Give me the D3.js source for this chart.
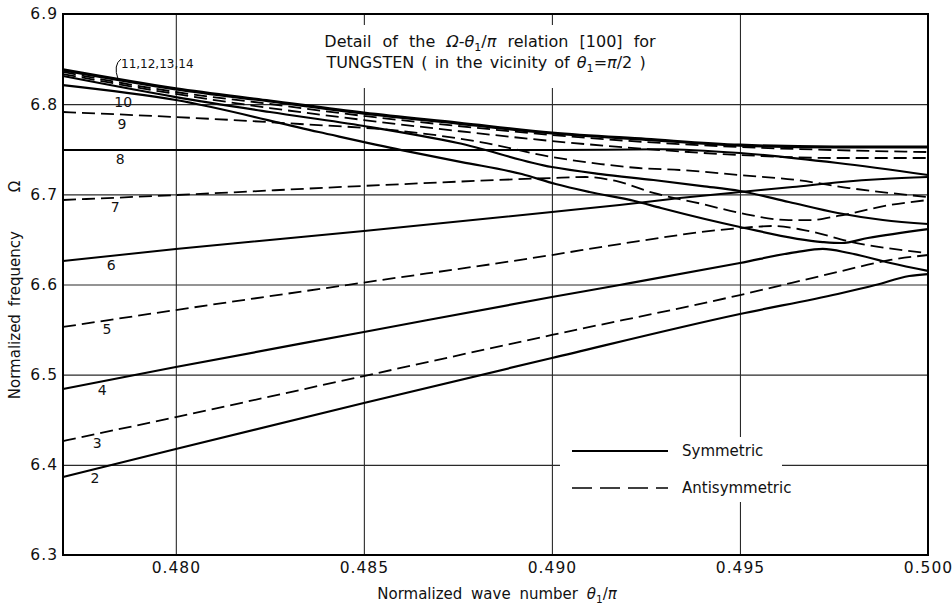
<!DOCTYPE html>
<html>
<head>
<meta charset="utf-8">
<script src="https://cdn.jsdelivr.net/npm/d3@7"></script>
<style>
  body { margin: 0; background: #fff; }
  svg text { font-family: "DejaVu Sans", sans-serif; fill: #111; }
</style>
</head>
<body>
<div id="chart"></div>
<script>
const canvas_w  =   952;
const canvas_h  =   606;

const xTicks    =   [ 0.480, 0.485, 0.490, 0.495, 0.500 ];
const yTicks    =   [ 6.3, 6.4, 6.5, 6.6, 6.7, 6.8, 6.9 ];

// symmetric branches (solid), points are [theta1/pi, Omega]
const sym11 = [ [0.4770,6.838],[0.4800,6.817],[0.4825,6.8035],[0.4850,6.790],[0.4875,6.779],
                [0.4900,6.768],[0.4925,6.761],[0.4950,6.7545],[0.4975,6.7525],[0.5000,6.7525] ];
const sym14 = [ [0.4770,6.8312],[0.4800,6.8079],[0.4825,6.7913],[0.4850,6.7758],[0.4875,6.7569],
                [0.4900,6.7303],[0.4913,6.7225],[0.4927,6.7159],[0.4940,6.7092],[0.4950,6.7037],
                [0.4963,6.6915],[0.4976,6.6793],[0.4988,6.6715],[0.5000,6.6671] ];
const sym10 = [ [0.4770,6.8212],[0.4800,6.8046],[0.4838,6.7691],[0.4860,6.7491],[0.4876,6.7358],
                [0.4892,6.7225],[0.4901,6.7114],[0.4910,6.7026],[0.4922,6.6926],[0.4929,6.6848],
                [0.4950,6.6638],[0.4972,6.6471],[0.4977,6.6460],[0.4984,6.6516],[0.5000,6.6615] ];
const sym8  = [ [0.4770,6.7491],[0.4850,6.7491],[0.4900,6.7491],[0.4929,6.7500],[0.4950,6.7458],
                [0.4976,6.7347],[0.5000,6.7214] ];
const sym6  = [ [0.4770,6.6260],[0.4800,6.6394],[0.4850,6.6593],[0.4900,6.6804],[0.4918,6.6882],
                [0.4934,6.6959],[0.4950,6.7026],[0.4964,6.7081],[0.4977,6.7137],[0.4988,6.7170],
                [0.5000,6.7192] ];
const sym4  = [ [0.4770,6.4841],[0.4800,6.5085],[0.4850,6.5473],[0.4900,6.5861],[0.4918,6.5994],
                [0.4950,6.6238],[0.4965,6.6360],[0.4972,6.6394],[0.4979,6.6349],[0.4990,6.6238],
                [0.5000,6.6150] ];
const sym2  = [ [0.4770,6.3865],[0.4800,6.4176],[0.4850,6.4686],[0.4900,6.5185],[0.4950,6.5673],
                [0.4976,6.5895],[0.4986,6.5994],[0.4995,6.6094],[0.5000,6.6116] ];

// antisymmetric branches (dashed)
const anti12 = [ [0.4770,6.8357],[0.4800,6.8135],[0.4825,6.8002],[0.4850,6.7869],[0.4875,6.7758],
                 [0.4900,6.7658],[0.4925,6.7580],[0.4950,6.7525],[0.4975,6.7491],[0.5000,6.7469] ];
const anti13 = [ [0.4770,6.8334],[0.4800,6.8113],[0.4825,6.7957],[0.4850,6.7824],[0.4875,6.7702],
                 [0.4900,6.7591],[0.4925,6.7503],[0.4950,6.7436],[0.4975,6.7403],[0.5000,6.7403] ];
const anti9  = [ [0.4770,6.7913],[0.4800,6.7857],[0.4833,6.7780],[0.4860,6.7702],[0.4881,6.7580],
                 [0.4900,6.7414],[0.4913,6.7336],[0.4923,6.7292],[0.4934,6.7270],[0.4950,6.7214],
                 [0.4965,6.7159],[0.4979,6.7070],[0.5000,6.6970] ];
const anti7  = [ [0.4770,6.6937],[0.4800,6.6992],[0.4855,6.7103],[0.4900,6.7181],[0.4909,6.7192],
                 [0.4917,6.7148],[0.4927,6.7015],[0.4940,6.6893],[0.4950,6.6793],[0.4963,6.6715],
                 [0.4969,6.6715],[0.4976,6.6760],[0.4990,6.6882],[0.5000,6.6937] ];
const anti5  = [ [0.4770,6.5529],[0.4800,6.5717],[0.4850,6.6022],[0.4900,6.6327],[0.4918,6.6449],
                 [0.4950,6.6626],[0.4959,6.6649],[0.4967,6.6604],[0.4981,6.6460],[0.5000,6.6349] ];
const anti3  = [ [0.4770,6.4264],[0.4800,6.4530],[0.4850,6.4985],[0.4900,6.5440],[0.4950,6.5883],
                 [0.4976,6.6139],[0.4990,6.6272],[0.5000,6.6327] ];

// curve number labels: [text, theta1/pi where the label sits, branch]
const curveLabels = [ ['2',0.47785,sym2],['3',0.47791,anti3],['4',0.47804,sym4],['5',0.47817,anti5],
                      ['6',0.47828,sym6],['7',0.47839,anti7],['8',0.47852,sym8],['9',0.47857,anti9],
                      ['10',0.4786,sym10] ];

const curves = [
    { pts: sym11,  dashed: false, w: 3.2 },
    { pts: sym14,  dashed: false, w: 2.2 },
    { pts: sym10,  dashed: false, w: 2.2 },
    { pts: sym8,   dashed: false, w: 2.0 },
    { pts: sym6,   dashed: false, w: 2.0 },
    { pts: sym4,   dashed: false, w: 2.2 },
    { pts: sym2,   dashed: false, w: 2.2 },
    { pts: anti12, dashed: true,  w: 1.8 },
    { pts: anti13, dashed: true,  w: 1.8 },
    { pts: anti9,  dashed: true,  w: 1.8 },
    { pts: anti7,  dashed: true,  w: 1.8 },
    { pts: anti5,  dashed: true,  w: 1.8 },
    { pts: anti3,  dashed: true,  w: 1.8 }
];

let x = d3.scaleLinear().domain( [ 0.477, 0.500 ] ).range( [ 63, 928 ] );
let y = d3.scaleLinear().domain( [ 6.3, 6.9 ] ).range( [ 555, 14 ] );

let svg = d3.select( '#chart' )
            .append( 'svg' )
            .attr( 'width', canvas_w )
            .attr( 'height', canvas_h );

// grid
svg.append( 'g' )
   .attr( 'transform', 'translate(0,555)' )
   .call( d3.axisBottom( x ).tickValues( xTicks.slice( 0, -1 ) ).tickSize( -541 ).tickFormat( '' ) )
   .call( g => g.select( '.domain' ).remove() )
   .selectAll( 'line' ).attr( 'stroke', '#2a2a2a' ).attr( 'stroke-width', 1.1 );

svg.append( 'g' )
   .attr( 'transform', 'translate(63,0)' )
   .call( d3.axisLeft( y ).tickValues( yTicks.slice( 1, -1 ) ).tickSize( -865 ).tickFormat( '' ) )
   .call( g => g.select( '.domain' ).remove() )
   .selectAll( 'line' ).attr( 'stroke', '#2a2a2a' ).attr( 'stroke-width', 1.1 );

// white patches behind title and legend
svg.append( 'rect' ).attr( 'x', 300 ).attr( 'y', 25 ).attr( 'width', 372 ).attr( 'height', 63 ).attr( 'fill', '#fff' );
svg.append( 'rect' ).attr( 'x', 560 ).attr( 'y', 437 ).attr( 'width', 222 ).attr( 'height', 65 ).attr( 'fill', '#fff' );

// tick labels
svg.append( 'g' )
   .attr( 'transform', 'translate(0,555)' )
   .call( d3.axisBottom( x ).tickValues( xTicks ).tickSize( 0 ).tickPadding( 7 ).tickFormat( d3.format( '.3f' ) ) )
   .call( g => g.select( '.domain' ).remove() )
   .selectAll( 'text' ).attr( 'font-size', 15.5 ).attr( 'letter-spacing', 1 ).attr( 'fill', '#111' );

svg.append( 'g' )
   .attr( 'transform', 'translate(63,0)' )
   .call( d3.axisLeft( y ).tickValues( yTicks ).tickSize( 0 ).tickPadding( 5 ).tickFormat( d3.format( '.1f' ) ) )
   .call( g => g.select( '.domain' ).remove() )
   .selectAll( 'text' ).attr( 'font-size', 15.5 ).attr( 'letter-spacing', 1 ).attr( 'fill', '#111' );

// branches
let line = d3.line()
             .x( d => x( d[0] ) )
             .y( d => y( d[1] ) )
             .curve( d3.curveMonotoneX );

svg.append( 'g' )
   .selectAll( 'path' )
   .data( curves )
   .enter()
   .append( 'path' )
   .attr( 'd', d => line( d.pts ) )
   .attr( 'fill', 'none' )
   .attr( 'stroke', '#000' )
   .attr( 'stroke-width', d => d.w )
   .attr( 'stroke-dasharray', d => d.dashed ? '13,6' : null );

// frame
svg.append( 'rect' )
   .attr( 'x', 63 ).attr( 'y', 14 ).attr( 'width', 865 ).attr( 'height', 541 )
   .attr( 'fill', 'none' ).attr( 'stroke', '#000' ).attr( 'stroke-width', 2 );

// curve numbers
function valueAt( pts, xv ) {
    for ( let i = 1; i < pts.length; i++ ) {
        if ( xv <= pts[i][0] ) {
            let t = ( xv - pts[i-1][0] ) / ( pts[i][0] - pts[i-1][0] );
            return pts[i-1][1] + t * ( pts[i][1] - pts[i-1][1] );
        }
    }
    return pts[pts.length-1][1];
}

svg.append( 'g' )
   .selectAll( 'text' )
   .data( curveLabels )
   .enter()
   .append( 'text' )
   .attr( 'x', d => x( d[1] ) )
   .attr( 'y', d => y( valueAt( d[2], d[1] ) ) + 14 )
   .attr( 'text-anchor', 'middle' )
   .attr( 'font-size', 14 )
   .text( d => d[0] );

svg.append( 'text' )
   .attr( 'x', 121 ).attr( 'y', 68 )
   .attr( 'font-size', 12 )
   .text( '11,12,13,14' );
svg.append( 'path' )
   .attr( 'd', 'M121,59 Q113,65 118,79' )
   .attr( 'fill', 'none' ).attr( 'stroke', '#000' ).attr( 'stroke-width', 1 );

// helper for text with theta-sub-1 pieces
function rich( sel, parts ) {
    parts.forEach( p => {
        let t = sel.append( 'tspan' ).text( p[0] );
        if ( p[1] === 'i' ) t.attr( 'font-style', 'italic' );
        if ( p[1] === 'sub' ) t.attr( 'font-size', '0.7em' ).attr( 'dy', 4 );
        if ( p[1] === 'up' ) t.attr( 'dy', -4 );
    } );
}

// title
let t1 = svg.append( 'text' ).attr( 'x', 490 ).attr( 'y', 47 ).attr( 'text-anchor', 'middle' )
            .attr( 'font-size', 16 ).attr( 'word-spacing', 6 );
rich( t1, [ [ 'Detail of the ' ], [ 'Ω', 'i' ], [ '-' ], [ 'θ', 'i' ], [ '1', 'sub' ], [ '/', 'up' ], [ 'π', 'i' ],
            [ ' relation [100] for' ] ] );
let t2 = svg.append( 'text' ).attr( 'x', 486 ).attr( 'y', 68 ).attr( 'text-anchor', 'middle' )
            .attr( 'font-size', 16 ).attr( 'word-spacing', 2 );
rich( t2, [ [ 'TUNGSTEN ( in the vicinity of ' ], [ 'θ', 'i' ], [ '1', 'sub' ], [ '=', 'up' ], [ 'π', 'i' ],
            [ '/2 )' ] ] );

// axis titles
let xt = svg.append( 'text' ).attr( 'x', 497 ).attr( 'y', 599 ).attr( 'text-anchor', 'middle' )
            .attr( 'font-size', 15 ).attr( 'word-spacing', 4 );
rich( xt, [ [ 'Normalized wave number  ' ], [ 'θ', 'i' ], [ '1', 'sub' ], [ '/', 'up' ], [ 'π', 'i' ] ] );

svg.append( 'text' )
   .attr( 'transform', 'translate(20,290) rotate(-90)' )
   .attr( 'text-anchor', 'middle' )
   .attr( 'font-size', 15 )
   .attr( 'word-spacing', 3 )
   .attr( 'xml:space', 'preserve' )
   .text( 'Normalized frequency     Ω' );

// legend
const legendItems = [ [ 'Symmetric', false ], [ 'Antisymmetric', true ] ];
let lg = svg.append( 'g' )
            .selectAll( 'g' )
            .data( legendItems )
            .enter()
            .append( 'g' )
            .attr( 'transform', ( d, i ) => 'translate(0,' + ( 451 + i * 37 ) + ')' );
lg.append( 'line' )
  .attr( 'x1', 572 ).attr( 'x2', 668 )
  .attr( 'stroke', '#000' )
  .attr( 'stroke-width', d => d[1] ? 1.3 : 2 )
  .attr( 'stroke-dasharray', d => d[1] ? '20,8' : null );
lg.append( 'text' )
  .attr( 'x', 682 ).attr( 'y', 5 )
  .attr( 'font-size', 15 )
  .text( d => d[0] );
</script>
</body>
</html>
